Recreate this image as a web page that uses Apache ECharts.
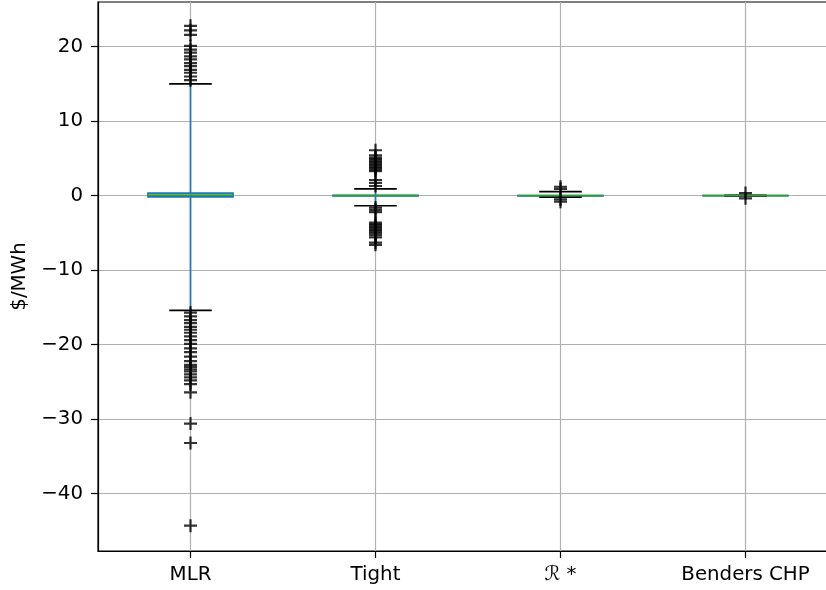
<!DOCTYPE html>
<html>
<head>
<meta charset="utf-8">
<script src="https://cdn.jsdelivr.net/npm/echarts@6/dist/echarts.min.js"></script>
<style>html,body{margin:0;padding:0;background:#fff}#c{width:826px;height:590px}</style>
</head>
<body>
<div id="c"></div>
<script>
// Categories
const categories = ['MLR', 'Tight', 'ℛ *', 'Benders CHP'];
// Box statistics: [whiskerLow, q1, median, q3, whiskerHigh]
const boxMLR = [-15.4, -0.15, 0.08, 0.35, 15.0];
const boxTight = [-1.35, -0.03, 0.0, 0.03, 0.9];
const boxRstar = [-0.2, -0.02, 0.0, 0.02, 0.55];
const boxBenders = [-0.03, -0.01, 0.0, 0.01, 0.03];
// Outliers per category
const fliersMLR = [22.8, 22.2, 21.6, 20.1, 19.6, 19.2, 18.7, 18.3, 17.8, 17.4, 16.9, 16.5, 16.0, 15.5,
  -15.7, -16.2, -16.7, -17.1, -17.6, -18.0, -18.4, -18.9, -19.4, -19.9, -20.5, -21.0, -21.6, -22.2,
  -22.7, -23.0, -23.3, -23.6, -24.0, -24.4, -24.8, -25.3, -26.4, -30.6, -33.2, -44.3];
const fliersTight = [6.1, 5.4, 5.1, 4.9, 4.7, 4.5, 4.3, 4.1, 3.9, 3.7, 3.5, 3.3, 2.1, 1.7, 1.3,
  -1.6, -1.9, -2.2, -3.6, -3.8, -4.0, -4.2, -4.4, -4.6, -4.8, -5.0, -5.3, -5.6, -6.3, -6.6];
const fliersRstar = [1.2, 0.9, -0.5, -0.8];
const fliersBenders = [0.35, -0.35];
// Tick labels
const yTicks = [-40, -30, -20, -10, 0, 10, 20];
const xTicks = [1, 2, 3, 4];

const boxes = [boxMLR, boxTight, boxRstar, boxBenders];
const fliers = [fliersMLR, fliersTight, fliersRstar, fliersBenders];

const boxData = boxes.map((b, i) => [i + 1].concat(b));
const flierData = [];
fliers.forEach((arr, i) => arr.forEach(v => flierData.push([i + 1, v])));

const BLUE = '#1f77b4', GREEN = '#2ca02c';
const FONT = 'DejaVu Sans';
const FS = 19.8;
const fmtMinus = v => String(v).replace('-', '\u2212');

const chart = echarts.init(document.getElementById('c'), null, {renderer: 'canvas'});
chart.setOption({
  animation: false,
  grid: {left: 98, top: 2, width: 740, height: 549, outerBoundsMode: 'none', containLabel: false,
    show: true, borderColor: '#000', borderWidth: 1.2, backgroundColor: 'transparent'},
  xAxis: {
    type: 'value', min: 0.5, max: 4.5,
    axisLine: {show: true, onZero: false, lineStyle: {color: '#000', width: 1.2}},
    axisTick: {show: true, length: 7, customValues: xTicks, lineStyle: {color: '#000', width: 1.2}},
    axisLabel: {customValues: xTicks, margin: 14, color: '#000', fontFamily: FONT, fontSize: FS,
      formatter: v => categories[Math.round(v) - 1] || ''},
    splitLine: {show: true, lineStyle: {color: '#b0b0b0', width: 1.2}}
  },
  yAxis: {
    type: 'value', min: -47.7, max: 26.0,
    name: '$/MWh', nameLocation: 'middle', nameGap: 68, nameRotate: 90,
    nameTextStyle: {color: '#000', fontFamily: FONT, fontSize: FS},
    axisLine: {show: true, onZero: false, lineStyle: {color: '#000', width: 1.2}},
    axisTick: {show: true, length: 7, customValues: yTicks, lineStyle: {color: '#000', width: 1.2}},
    axisLabel: {customValues: yTicks, margin: 15, color: '#000', fontFamily: FONT, fontSize: FS, formatter: fmtMinus},
    splitLine: {show: true, lineStyle: {color: '#b0b0b0', width: 1.2}}
  },
  series: [
    {
      type: 'custom',
      data: boxData,
      clip: false,
      renderItem: function (params, api) {
        const x = api.value(0);
        const lo = api.value(1), q1 = api.value(2), med = api.value(3), q3 = api.value(4), hi = api.value(5);
        const unit = api.size([1, 0])[0];
        const bw = unit * 0.46, cw = unit * 0.23;
        const pLo = api.coord([x, lo]), pQ1 = api.coord([x, q1]), pMed = api.coord([x, med]),
              pQ3 = api.coord([x, q3]), pHi = api.coord([x, hi]);
        const cx = pMed[0];
        return {
          type: 'group',
          children: [
            {type: 'rect', shape: {x: cx - bw / 2, y: pQ3[1], width: bw, height: pQ1[1] - pQ3[1]},
              style: {fill: 'none', stroke: BLUE, lineWidth: 1.7}},
            {type: 'line', shape: {x1: cx, y1: pQ1[1], x2: cx, y2: pLo[1]}, style: {stroke: BLUE, lineWidth: 1.7}},
            {type: 'line', shape: {x1: cx, y1: pQ3[1], x2: cx, y2: pHi[1]}, style: {stroke: BLUE, lineWidth: 1.7}},
            {type: 'line', shape: {x1: cx - cw / 2, y1: pLo[1], x2: cx + cw / 2, y2: pLo[1]}, style: {stroke: '#000', lineWidth: 1.7}},
            {type: 'line', shape: {x1: cx - cw / 2, y1: pHi[1], x2: cx + cw / 2, y2: pHi[1]}, style: {stroke: '#000', lineWidth: 1.7}},
            {type: 'line', shape: {x1: cx - bw / 2, y1: pMed[1], x2: cx + bw / 2, y2: pMed[1]}, style: {stroke: GREEN, lineWidth: 1.7}}
          ]
        };
      }
    },
    {
      type: 'scatter',
      data: flierData,
      symbol: 'path://M4.15,0H5.85V4.15H10V5.85H5.85V10H4.15V5.85H0V4.15H4.15Z',
      symbolSize: 13,
      itemStyle: {color: '#000'},
      z: 5
    }
  ]
});
</script>
</body>
</html>
